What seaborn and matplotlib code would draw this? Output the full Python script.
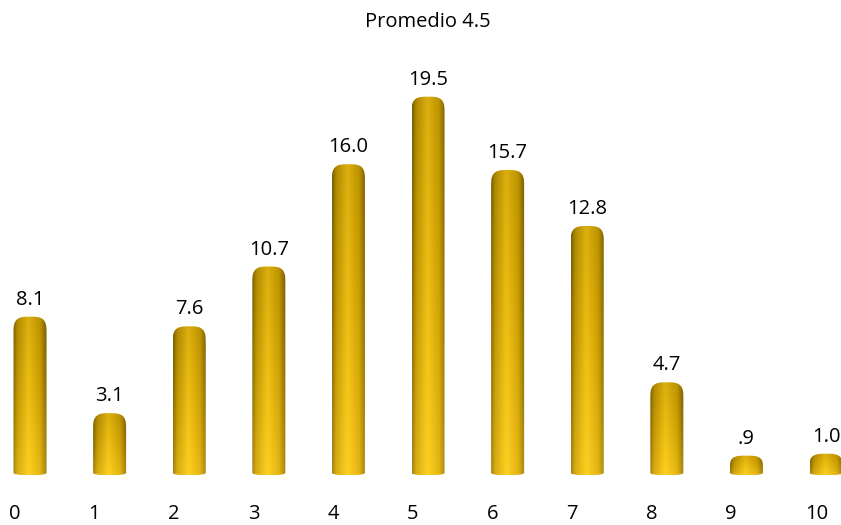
import numpy as np
import pandas as pd
import matplotlib
matplotlib.use('Agg')
from matplotlib import pyplot as plt
from matplotlib.path import Path
from matplotlib.patches import PathPatch
from matplotlib import transforms
import seaborn as sns

# data
categories = ['0', '1', '2', '3', '4', '5', '6', '7', '8', '9', '10']
values = [8.1, 3.1, 7.6, 10.7, 16.0, 19.5, 15.7, 12.8, 4.7, 0.9, 1.0]
value_labels = ['8.1', '3.1', '7.6', '10.7', '16.0', '19.5', '15.7', '12.8', '4.7', '.9', '1.0']
title = 'Promedio 4.5'

sns.set_style('white')
plt.rcParams['font.family'] = ['Open Sans', 'DejaVu Sans']

df = pd.DataFrame({'cat': categories, 'val': values})

fig = plt.figure(figsize=(8.41, 5.25), dpi=100)
ax = fig.add_axes([0, 0, 1, 1])
sns.barplot(data=df, x='cat', y='val', color='#e0b000', width=0.415, ax=ax)


def gold_image(nx=60, ny=200):
    # horizontal shading of a cylinder
    t = np.linspace(0, 1, nx)
    stops = [0.0, 0.12, 0.45, 0.8, 1.0]
    cols = np.array([[0.55, 0.43, 0.0],
                     [0.80, 0.62, 0.0],
                     [1.00, 0.80, 0.07],
                     [0.86, 0.67, 0.0],
                     [0.55, 0.42, 0.0]])
    row = np.stack([np.interp(t, stops, cols[:, k]) for k in range(3)], axis=1)
    img = np.repeat(row[None, :, :], ny, axis=0)
    # vertical: darker top, lighter bottom (row 0 is top)
    v = np.linspace(0, 1, ny)[:, None, None]
    light = np.array([1.0, 0.87, 0.35])
    img = img * (0.86 + 0.14 * v)
    img = img + (light - img) * (0.22 * v ** 2)
    return np.clip(img, 0, 1)


img = gold_image()
for bar in ax.patches:
    x0 = bar.get_x()
    w = bar.get_width()
    h = bar.get_height()
    bar.set_visible(False)
    cap = min(0.85, 0.7 * h)
    bot = 0.12
    xc = x0 + w / 2
    # outline: bottom ellipse arc, then rounded cap
    th_b = np.linspace(np.pi, 2 * np.pi, 30)
    bx = xc + (w / 2) * np.cos(th_b)
    by = bot * np.sin(th_b)
    th_t = np.linspace(0, np.pi, 40)
    ct = np.cos(th_t)
    st = np.sin(th_t)
    tx = xc + (w / 2) * np.sign(ct) * np.abs(ct) ** 0.6
    ty = (h - cap) + cap * np.abs(st) ** 0.6
    verts = np.column_stack([np.concatenate([bx, tx]), np.concatenate([by, ty])])
    path = Path(np.vstack([verts, verts[:1]]), closed=True)
    clip = PathPatch(path, transform=ax.transData, facecolor='none', edgecolor='none')
    ax.add_patch(clip)
    im = ax.imshow(img, extent=[x0, x0 + w, -bot, h], aspect='auto',
                   interpolation='bilinear', zorder=2)
    im.set_clip_path(clip)

ax.set_xlim(-0.377, 10.188)
ax.set_ylim(-2.694, 24.51)

ax.bar_label(ax.containers[0], labels=value_labels, padding=5, fontsize=14.5, color='black')

ax.spines['bottom'].set_position(('data', 0))
ax.set_xticks(range(len(categories)))
ax.set_xticklabels(categories, fontsize=14.5, color='black')
ax.tick_params(axis='x', length=0, pad=22)
shift = transforms.ScaledTranslation(-21 / 100, 0, fig.dpi_scale_trans)
for lab in ax.get_xticklabels():
    lab.set_horizontalalignment('left')
    lab.set_transform(lab.get_transform() + shift)
ax.set_yticks([])
ax.set_xlabel('')
ax.set_ylabel('')
sns.despine(ax=ax, left=True, bottom=True)

fig.text(0.509, 0.958, title, ha='center', va='center', fontsize=14.5, color='black')

fig.savefig('out.png', dpi=100)
